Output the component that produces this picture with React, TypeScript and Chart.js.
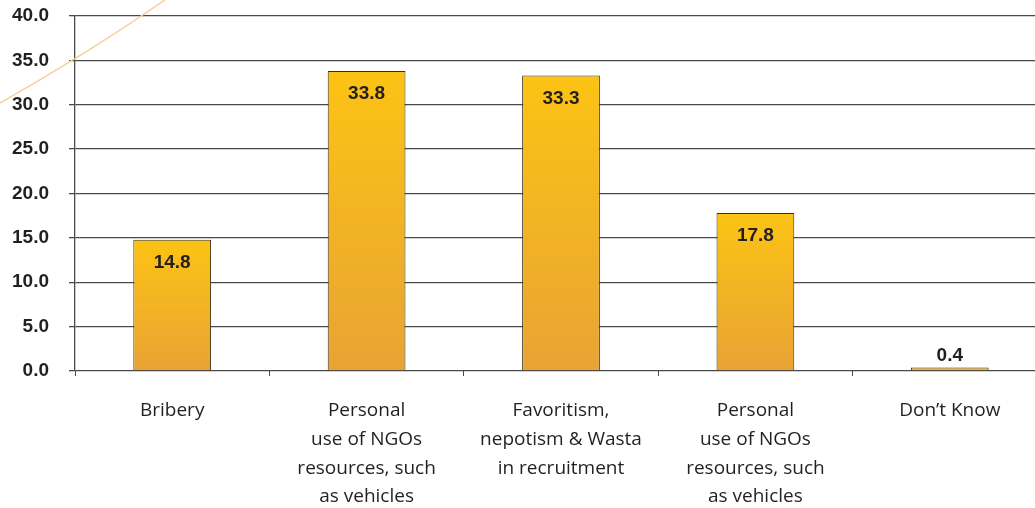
import React, { useEffect, useRef } from "react";
import { Chart, registerables } from "chart.js";

Chart.register(...registerables);

const categories: (string | string[])[] = [
  "Bribery",
  ["Personal", "use of NGOs", "resources, such", "as vehicles"],
  ["Favoritism,", "nepotism & Wasta", "in recruitment"],
  ["Personal", "use of NGOs", "resources, such", "as vehicles"],
  "Don\u2019t Know",
];
const values: number[] = [14.8, 33.8, 33.3, 17.8, 0.4];
const yTicks: number[] = [0, 5, 10, 15, 20, 25, 30, 35, 40];

const TEXT = "#231f20";
const GRID = "#4a4a4a";

const valueLabels = {
  id: "valueLabels",
  afterDatasetsDraw(chart: any) {
    const { ctx } = chart;
    const meta = chart.getDatasetMeta(0);
    ctx.save();
    ctx.font = "bold 19px 'Liberation Sans', Arial, sans-serif";
    ctx.fillStyle = TEXT;
    ctx.textAlign = "center";
    ctx.textBaseline = "middle";
    meta.data.forEach((bar: any, i: number) => {
      const v = values[i];
      const y = v < 3 ? bar.y - 12 : bar.y + 23;
      ctx.fillText(v.toFixed(1), bar.x, y);
    });
    ctx.restore();
  },
};

const decoArc = {
  id: "decoArc",
  beforeDatasetsDraw(chart: any) {
    const { ctx } = chart;
    ctx.save();
    ctx.strokeStyle = "#f7cf96";
    ctx.lineWidth = 1.5;
    ctx.beginPath();
    ctx.moveTo(0, 103);
    ctx.quadraticCurveTo(90, 52, 165, 0);
    ctx.stroke();
    ctx.restore();
  },
};

export default function App() {
  const ref = useRef<HTMLCanvasElement>(null);
  useEffect(() => {
    document.body.style.margin = "0";
    document.body.style.overflow = "hidden";
    const chart = new Chart(ref.current!, {
      type: "bar",
      data: {
        labels: categories,
        datasets: [
          {
            data: values,
            backgroundColor: (c: any) => {
              const ch = c.chart;
              if (!ch.chartArea || !ch.scales || !ch.scales.y) return "#f5b524";
              const v = values[c.dataIndex];
              const top = ch.scales.y.getPixelForValue(v);
              const bottom = ch.scales.y.getPixelForValue(0);
              if (bottom - top < 2) return "#fcc314";
              const g = ch.ctx.createLinearGradient(0, top, 0, bottom);
              g.addColorStop(0, "#fcc314");
              g.addColorStop(1, "#e8a335");
              return g;
            },
            borderColor: "#3a3018",
            borderWidth: 1,
            barPercentage: 0.4,
            categoryPercentage: 1,
          },
        ],
      },
      options: {
        animation: false,
        responsive: false,
        maintainAspectRatio: false,
        layout: { padding: { top: 16, left: 0, right: 0, bottom: 0 } },
        plugins: { legend: { display: false }, tooltip: { enabled: false } },
        scales: {
          x: {
            offset: true,
            grid: {
              display: true,
              drawOnChartArea: false,
              offset: true,
              tickLength: 5,
              color: GRID,
              lineWidth: 1,
            },
            border: { display: false },
            ticks: {
              color: TEXT,
              font: { family: "'Open Sans', sans-serif", size: 19, lineHeight: 1.52 },
              padding: 20,
              maxRotation: 0,
              autoSkip: false,
            },
            afterFit: (s: any) => {
              s.height = 137;
              s.paddingLeft = 0;
              s.paddingRight = 0;
            },
          },
          y: {
            min: 0,
            max: 40,
            afterBuildTicks: (s: any) => {
              s.ticks = yTicks.map((v) => ({ value: v }));
            },
            grid: { color: GRID, lineWidth: 1.3, tickLength: 6 },
            border: { display: true, color: GRID, width: 1.3 },
            ticks: {
              color: TEXT,
              font: { family: "'Liberation Sans', Arial, sans-serif", size: 19, weight: "bold" },
              padding: 20,
              callback: (v: any) => Number(v).toFixed(1),
            },
            afterFit: (s: any) => {
              s.width = 75;
              s.paddingTop = 0;
              s.paddingBottom = 0;
            },
          },
        },
      },
      plugins: [decoArc, valueLabels],
    });
    return () => chart.destroy();
  }, []);
  return (
    <div style={{ position: "relative", width: 1035, height: 508, overflow: "hidden" }}>
      <canvas ref={ref} width={1047} height={508} style={{ position: "absolute", left: 0, top: 0 }} />
    </div>
  );
}
